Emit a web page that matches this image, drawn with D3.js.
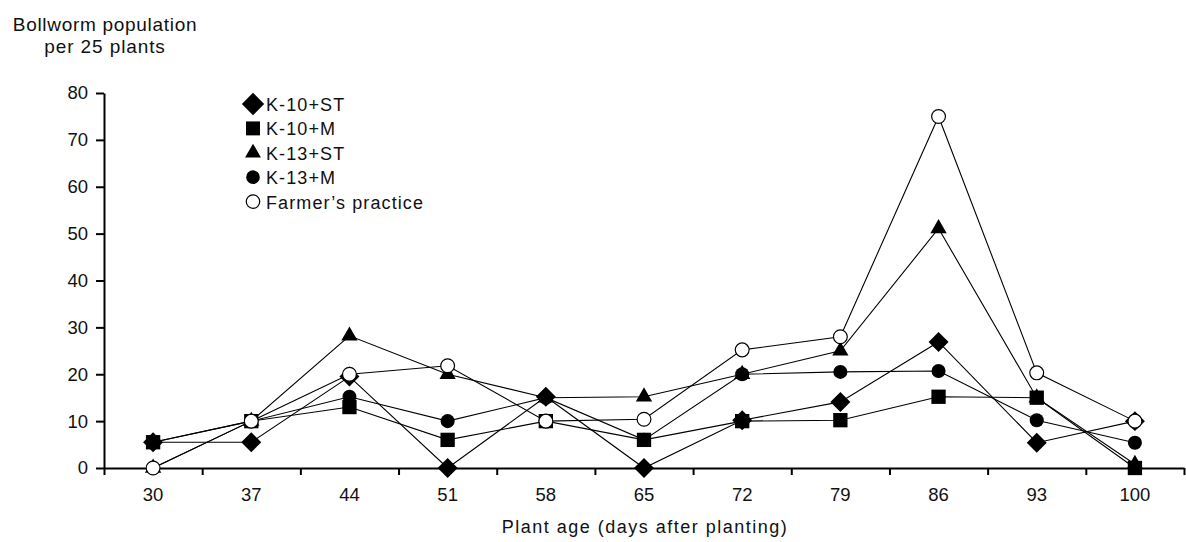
<!DOCTYPE html>
<html>
<head>
<meta charset="utf-8">
<script src="https://cdn.jsdelivr.net/npm/d3@7"></script>
<style>
  body { margin: 0; background: #fff; }
  text { font-family: "Liberation Sans", Arial, sans-serif; fill: #111; }
</style>
</head>
<body>
<div id="chart"></div>
<script>
// plant age (days after planting)
const days = [30, 37, 44, 51, 58, 65, 72, 79, 86, 93, 100];

// bollworm population per 25 plants
const k10st = [5.5, 5.5, 19.5, 0, 15.2, 0, 10.2, 14.1, 26.9, 5.4, 10];
const k10m = [5.5, 10, 13, 6, 10, 6, 10, 10.2, 15.2, 15, 0];
const k13st = [0, 10, 28.2, 20, 15, 15.2, 20, 25, 51.1, 15, 0.8];
const k13m = [5.5, 10, 15.2, 10, 15, 6, 20, 20.5, 20.7, 10.2, 5.4];
const farmer = [0, 10, 20, 21.8, 10, 10.4, 25.2, 28, 75, 20.3, 10];

const yTicks = [0, 10, 20, 30, 40, 50, 60, 70, 80];

// draw order = bottom to top
const series = [
  {name: "K-13+ST", values: k13st, shape: "triangle"},
  {name: "K-13+M", values: k13m, shape: "circle"},
  {name: "K-10+M", values: k10m, shape: "square"},
  {name: "K-10+ST", values: k10st, shape: "diamond"},
  {name: "Farmer\u2019s practice", values: farmer, shape: "open"}
];
const legendOrder = ["K-10+ST", "K-10+M", "K-13+ST", "K-13+M", "Farmer\u2019s practice"];

const width = 1186, height = 542;
const plot = {left: 104, right: 1184, top: 93, bottom: 468};

const svg = d3.select("#chart")
  .append("svg")
    .attr("width", width)
    .attr("height", height);

const x = d3.scaleBand()
  .domain(days)
  .range([plot.left, plot.right]);

const xEdge = d3.scaleLinear()
  .domain([0, days.length])
  .range([plot.left, plot.right]);

const y = d3.scaleLinear()
  .domain([0, 80])
  .range([plot.bottom, plot.top]);

// marker path for each shape
function marker(shape, scale) {
  const s = scale || 1;
  if (shape === "triangle") return d3.symbol().type(d3.symbolTriangle).size(115 * s)();
  if (shape === "circle") return d3.symbol().type(d3.symbolCircle).size(155 * s)();
  if (shape === "square") return d3.symbol().type(d3.symbolSquare).size(205 * s)();
  if (shape === "diamond") return d3.symbol().type(d3.symbolSquare).size(200 * s)();
  return d3.symbol().type(d3.symbolCircle).size(150 * s)();
}

// X axis: labels under band centres, ticks on band edges
const xAxis = svg.append("g")
  .attr("transform", `translate(0, ${plot.bottom})`)
  .call(d3.axisBottom(x).tickSize(0).tickPadding(19.5));
xAxis.select(".domain").attr("stroke", "#000").attr("stroke-width", 2);
xAxis.selectAll("text")
  .attr("font-size", "18.5px")
  .attr("font-family", null);

svg.append("g")
  .attr("transform", `translate(0, ${plot.bottom})`)
  .call(d3.axisBottom(xEdge).tickValues(d3.range(days.length + 1)).tickFormat("").tickSize(7).tickSizeOuter(0))
  .call(g => g.select(".domain").remove())
  .selectAll("line").attr("stroke", "#000").attr("stroke-width", 2);

// Y axis
const yAxis = svg.append("g")
  .attr("transform", `translate(${plot.left}, 0)`)
  .call(d3.axisLeft(y).tickValues(yTicks).tickSize(8).tickSizeOuter(0).tickPadding(8));
yAxis.select(".domain").attr("stroke", "#000").attr("stroke-width", 2);
yAxis.selectAll("line").attr("stroke", "#000").attr("stroke-width", 2);
yAxis.selectAll("text")
  .attr("font-size", "18.5px")
  .attr("font-family", null);

// Y label (two lines, centred over the axis)
svg.append("text")
  .attr("x", 105)
  .attr("y", 31)
  .attr("font-size", "19px")
  .attr("text-anchor", "middle")
  .style("letter-spacing", "0.7px")
  .text("Bollworm population");
svg.append("text")
  .attr("x", 105)
  .attr("y", 53)
  .attr("font-size", "19px")
  .attr("text-anchor", "middle")
  .style("letter-spacing", "0.9px")
  .text("per 25 plants");

// X label
svg.append("text")
  .attr("x", 645)
  .attr("y", 533)
  .attr("font-size", "18px")
  .attr("text-anchor", "middle")
  .style("letter-spacing", "1.5px")
  .text("Plant age (days after planting)");

const line = d3.line()
  .x((d, i) => x(days[i]) + x.bandwidth() / 2)
  .y(d => y(d));

series.forEach(s => {
  const g = svg.append("g");
  g.append("path")
    .datum(s.values)
    .attr("d", line)
    .attr("fill", "none")
    .attr("stroke", "#000")
    .attr("stroke-width", 1.1);
  g.selectAll("path.mark")
    .data(s.values)
    .join("path")
      .attr("class", "mark")
      .attr("d", marker(s.shape))
      .attr("transform", (d, i) => `translate(${x(days[i]) + x.bandwidth() / 2}, ${y(d)})` + (s.shape === "diamond" ? " rotate(45)" : ""))
      .attr("fill", s.shape === "open" ? "#fff" : "#000")
      .attr("stroke", "#000")
      .attr("stroke-width", s.shape === "open" ? 1.2 : 0);
});

// legend
const legend = svg.append("g").attr("transform", "translate(253, 104)");
legendOrder.forEach((name, i) => {
  const s = series.find(d => d.name === name);
  const row = legend.append("g").attr("transform", `translate(0, ${i * 24.4})`);
  row.append("path")
    .attr("d", marker(s.shape, s.shape === "diamond" ? 1.25 : 0.95))
    .attr("transform", s.shape === "diamond" ? "rotate(45)" : null)
    .attr("fill", s.shape === "open" ? "#fff" : "#000")
    .attr("stroke", "#000")
    .attr("stroke-width", s.shape === "open" ? 1.2 : 0);
  row.append("text")
    .attr("x", 13)
    .attr("y", 7)
    .attr("font-size", "18px")
    .style("letter-spacing", "1.1px")
    .text(name);
});
</script>
</body>
</html>
